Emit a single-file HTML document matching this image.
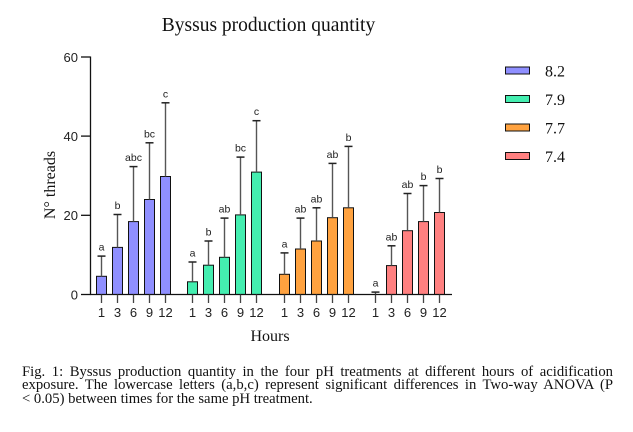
<!DOCTYPE html>
<html>
<head>
<meta charset="utf-8">
<style>
  html,body{margin:0;padding:0;background:#fff;}
  body{width:633px;height:432px;position:relative;overflow:hidden;}
  svg{position:absolute;left:0;top:0;}
  .cap{position:absolute;left:22px;width:591px;font-family:"Liberation Serif",serif;font-size:14.67px;line-height:15px;color:#111;white-space:normal;}
  .j{text-align:justify;text-align-last:justify;}
</style>
</head>
<body>
<svg width="633" height="432" viewBox="0 0 633 432" xmlns="http://www.w3.org/2000/svg">
  <!-- title -->
  <text x="268.5" y="31" font-family="Liberation Serif, serif" font-size="19.5" text-anchor="middle" fill="#111">Byssus production quantity</text>

  <!-- y axis -->
  <g stroke="#111" stroke-width="1.3" fill="none">
    <line x1="90.5" y1="56.5" x2="90.5" y2="295"/>
    <line x1="81" y1="57" x2="90.5" y2="57"/>
    <line x1="81" y1="136.1" x2="90.5" y2="136.1"/>
    <line x1="81" y1="215.3" x2="90.5" y2="215.3"/>
    <line x1="81" y1="294.5" x2="90.5" y2="294.5"/>
  </g>
  <g font-family="Liberation Sans, Arial, sans-serif" font-size="13" fill="#222" text-anchor="end">
    <text x="78" y="62">60</text>
    <text x="78" y="141">40</text>
    <text x="78" y="220">20</text>
    <text x="78" y="299.5">0</text>
  </g>
  <text transform="translate(55,185) rotate(-90)" font-family="Liberation Serif, serif" font-size="16" text-anchor="middle" fill="#111">N° threads</text>

  <!-- bars -->
  <g stroke="#111" stroke-width="1">
    <rect x="96.5" y="276.3" width="10" height="18.2" fill="#8F8FFF"/>
    <rect x="112.5" y="247.4" width="10" height="47.1" fill="#8F8FFF"/>
    <rect x="128.5" y="221.6" width="10" height="72.9" fill="#8F8FFF"/>
    <rect x="144.5" y="199.5" width="10" height="95" fill="#8F8FFF"/>
    <rect x="160.5" y="176.5" width="10" height="118" fill="#8F8FFF"/>
    <rect x="187.5" y="281.8" width="10" height="12.7" fill="#44EEB0"/>
    <rect x="203.5" y="265.2" width="10" height="29.3" fill="#44EEB0"/>
    <rect x="219.5" y="257.3" width="10" height="37.2" fill="#44EEB0"/>
    <rect x="235.5" y="214.9" width="10" height="79.6" fill="#44EEB0"/>
    <rect x="251.5" y="172.1" width="10" height="122.4" fill="#44EEB0"/>
    <rect x="279.5" y="274.3" width="10" height="20.2" fill="#FFA23F"/>
    <rect x="295.5" y="249" width="10" height="45.5" fill="#FFA23F"/>
    <rect x="311.5" y="241" width="10" height="53.5" fill="#FFA23F"/>
    <rect x="327.5" y="217.7" width="10" height="76.8" fill="#FFA23F"/>
    <rect x="343.5" y="207.8" width="10" height="86.7" fill="#FFA23F"/>
    <rect x="386.5" y="265.6" width="10" height="28.9" fill="#FF8080"/>
    <rect x="402.5" y="230.7" width="10" height="63.8" fill="#FF8080"/>
    <rect x="418.5" y="221.6" width="10" height="72.9" fill="#FF8080"/>
    <rect x="434.5" y="212.5" width="10" height="82" fill="#FF8080"/>
  </g>

  <!-- error bars vertical -->
  <g stroke="#555" stroke-width="1.4">
    <line x1="101.5" y1="276.3" x2="101.5" y2="256.1"/>
    <line x1="117.5" y1="247.4" x2="117.5" y2="214.5"/>
    <line x1="133.5" y1="221.6" x2="133.5" y2="166.6"/>
    <line x1="149.5" y1="199.5" x2="149.5" y2="142.8"/>
    <line x1="165.5" y1="176.5" x2="165.5" y2="102.8"/>
    <line x1="192.5" y1="281.8" x2="192.5" y2="262"/>
    <line x1="208.5" y1="265.2" x2="208.5" y2="241"/>
    <line x1="224.5" y1="257.3" x2="224.5" y2="218.1"/>
    <line x1="240.5" y1="214.9" x2="240.5" y2="157.1"/>
    <line x1="256.5" y1="172.1" x2="256.5" y2="120.7"/>
    <line x1="284.5" y1="274.3" x2="284.5" y2="252.9"/>
    <line x1="300.5" y1="249" x2="300.5" y2="218.1"/>
    <line x1="316.5" y1="241" x2="316.5" y2="207.8"/>
    <line x1="332.5" y1="217.7" x2="332.5" y2="163.4"/>
    <line x1="348.5" y1="207.8" x2="348.5" y2="146.4"/>
    <line x1="375.5" y1="294.5" x2="375.5" y2="292.1"/>
    <line x1="391.5" y1="265.6" x2="391.5" y2="245.8"/>
    <line x1="407.5" y1="230.7" x2="407.5" y2="193.5"/>
    <line x1="423.5" y1="221.6" x2="423.5" y2="185.6"/>
    <line x1="439.5" y1="212.5" x2="439.5" y2="178.5"/>
  </g>
  <!-- caps -->
  <g stroke="#222" stroke-width="1.5">
    <line x1="97.5" y1="256.1" x2="105.5" y2="256.1"/>
    <line x1="113.5" y1="214.5" x2="121.5" y2="214.5"/>
    <line x1="129.5" y1="166.6" x2="137.5" y2="166.6"/>
    <line x1="145.5" y1="142.8" x2="153.5" y2="142.8"/>
    <line x1="161.5" y1="102.8" x2="169.5" y2="102.8"/>
    <line x1="188.5" y1="262" x2="196.5" y2="262"/>
    <line x1="204.5" y1="241" x2="212.5" y2="241"/>
    <line x1="220.5" y1="218.1" x2="228.5" y2="218.1"/>
    <line x1="236.5" y1="157.1" x2="244.5" y2="157.1"/>
    <line x1="252.5" y1="120.7" x2="260.5" y2="120.7"/>
    <line x1="280.5" y1="252.9" x2="288.5" y2="252.9"/>
    <line x1="296.5" y1="218.1" x2="304.5" y2="218.1"/>
    <line x1="312.5" y1="207.8" x2="320.5" y2="207.8"/>
    <line x1="328.5" y1="163.4" x2="336.5" y2="163.4"/>
    <line x1="344.5" y1="146.4" x2="352.5" y2="146.4"/>
    <line x1="371.5" y1="292.1" x2="379.5" y2="292.1"/>
    <line x1="387.5" y1="245.8" x2="395.5" y2="245.8"/>
    <line x1="403.5" y1="193.5" x2="411.5" y2="193.5"/>
    <line x1="419.5" y1="185.6" x2="427.5" y2="185.6"/>
    <line x1="435.5" y1="178.5" x2="443.5" y2="178.5"/>
  </g>

  <!-- significance letters -->
  <g font-family="Liberation Sans, Arial, sans-serif" font-size="10.5" fill="#222" text-anchor="middle">
    <text x="101.5" y="250.6">a</text>
    <text x="117.5" y="209">b</text>
    <text x="133.5" y="161.1">abc</text>
    <text x="149.5" y="137.3">bc</text>
    <text x="165.5" y="97.3">c</text>
    <text x="192.5" y="256.5">a</text>
    <text x="208.5" y="235.5">b</text>
    <text x="224.5" y="212.6">ab</text>
    <text x="240.5" y="151.6">bc</text>
    <text x="256.5" y="115.2">c</text>
    <text x="284.5" y="247.4">a</text>
    <text x="300.5" y="212.6">ab</text>
    <text x="316.5" y="202.3">ab</text>
    <text x="332.5" y="157.9">ab</text>
    <text x="348.5" y="140.9">b</text>
    <text x="375.5" y="286.6">a</text>
    <text x="391.5" y="240.3">ab</text>
    <text x="407.5" y="188">ab</text>
    <text x="423.5" y="180.1">b</text>
    <text x="439.5" y="173">b</text>
  </g>

  <!-- x axis -->
  <g stroke="#111" stroke-width="1.3">
    <line x1="90" y1="294.5" x2="452" y2="294.5"/>
  </g>
  <g stroke="#444" stroke-width="1.3">
    <line x1="101.5" y1="294.5" x2="101.5" y2="303"/>
    <line x1="117.5" y1="294.5" x2="117.5" y2="303"/>
    <line x1="133.5" y1="294.5" x2="133.5" y2="303"/>
    <line x1="149.5" y1="294.5" x2="149.5" y2="303"/>
    <line x1="165.5" y1="294.5" x2="165.5" y2="303"/>
    <line x1="192.5" y1="294.5" x2="192.5" y2="303"/>
    <line x1="208.5" y1="294.5" x2="208.5" y2="303"/>
    <line x1="224.5" y1="294.5" x2="224.5" y2="303"/>
    <line x1="240.5" y1="294.5" x2="240.5" y2="303"/>
    <line x1="256.5" y1="294.5" x2="256.5" y2="303"/>
    <line x1="284.5" y1="294.5" x2="284.5" y2="303"/>
    <line x1="300.5" y1="294.5" x2="300.5" y2="303"/>
    <line x1="316.5" y1="294.5" x2="316.5" y2="303"/>
    <line x1="332.5" y1="294.5" x2="332.5" y2="303"/>
    <line x1="348.5" y1="294.5" x2="348.5" y2="303"/>
    <line x1="375.5" y1="294.5" x2="375.5" y2="303"/>
    <line x1="391.5" y1="294.5" x2="391.5" y2="303"/>
    <line x1="407.5" y1="294.5" x2="407.5" y2="303"/>
    <line x1="423.5" y1="294.5" x2="423.5" y2="303"/>
    <line x1="439.5" y1="294.5" x2="439.5" y2="303"/>
  </g>
  <g font-family="Liberation Sans, Arial, sans-serif" font-size="13" fill="#222" text-anchor="middle">
    <text x="101.5" y="317">1</text>
    <text x="117.5" y="317">3</text>
    <text x="133.5" y="317">6</text>
    <text x="149.5" y="317">9</text>
    <text x="165.5" y="317">12</text>
    <text x="192.5" y="317">1</text>
    <text x="208.5" y="317">3</text>
    <text x="224.5" y="317">6</text>
    <text x="240.5" y="317">9</text>
    <text x="256.5" y="317">12</text>
    <text x="284.5" y="317">1</text>
    <text x="300.5" y="317">3</text>
    <text x="316.5" y="317">6</text>
    <text x="332.5" y="317">9</text>
    <text x="348.5" y="317">12</text>
    <text x="375.5" y="317">1</text>
    <text x="391.5" y="317">3</text>
    <text x="407.5" y="317">6</text>
    <text x="423.5" y="317">9</text>
    <text x="439.5" y="317">12</text>
  </g>
  <text x="270" y="341" font-family="Liberation Serif, serif" font-size="16" text-anchor="middle" fill="#111">Hours</text>

  <!-- legend -->
  <g stroke="#111" stroke-width="1">
    <rect x="505.5" y="67" width="24" height="7" fill="#8F8FFF"/>
    <rect x="505.5" y="95.5" width="24" height="7" fill="#44EEB0"/>
    <rect x="505.5" y="124" width="24" height="7" fill="#FFA23F"/>
    <rect x="505.5" y="152.5" width="24" height="7" fill="#FF8080"/>
  </g>
  <g font-family="Liberation Serif, serif" font-size="16" fill="#111">
    <text x="545" y="76.5">8.2</text>
    <text x="545" y="105">7.9</text>
    <text x="545" y="133.5">7.7</text>
    <text x="545" y="162">7.4</text>
  </g>
</svg>

<div class="cap j" style="top:364.5px;">Fig. 1: Byssus production quantity in the four pH treatments at different hours of acidification</div>
<div class="cap j" style="top:378.3px;">exposure. The lowercase letters (a,b,c) represent significant differences in Two-way ANOVA (P</div>
<div class="cap" style="top:392.1px;">&lt; 0.05) between times for the same pH treatment.</div>
</body>
</html>
